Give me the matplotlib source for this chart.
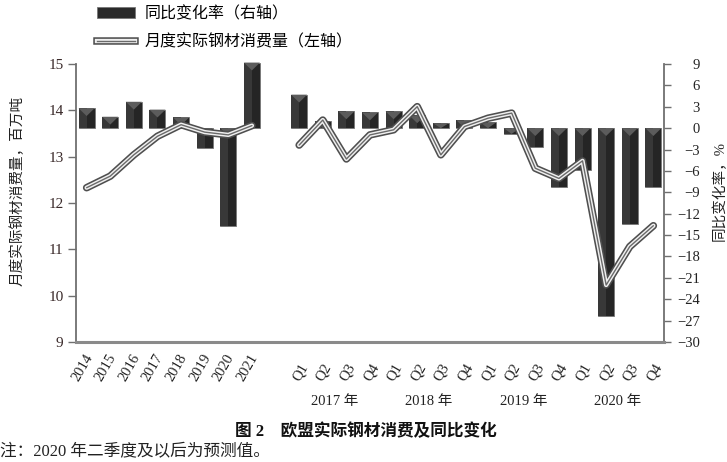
import matplotlib
matplotlib.use('Agg')
import matplotlib.pyplot as plt
import matplotlib.patheffects as pe
from matplotlib.patches import Patch
from matplotlib.lines import Line2D
import numpy as np

plt.rcParams['font.family'] = ['Liberation Serif', 'Noto Sans CJK SC']
plt.rcParams['axes.unicode_minus'] = True

# annual data (left: consumption, right: yoy change)
years = ['2014', '2015', '2016', '2017', '2018', '2019', '2020', '2021']
year_consumption = [12.33, 12.58, 13.04, 13.44, 13.69, 13.53, 13.47, 13.67]
year_change = [2.8, 1.6, 3.7, 2.6, 1.5, -2.8, -13.7, 9.2]

# quarterly data 2017-2020
quarter_years = ['2017 年', '2018 年', '2019 年', '2020 年']
quarters = ['Q1', 'Q2', 'Q3', 'Q4']
quarter_consumption = [13.25, 13.79, 12.95, 13.47, 13.58, 14.08, 13.04, 13.65,
                       13.83, 13.94, 12.75, 12.53, 12.91, 10.23, 11.06, 11.51]
quarter_change = [4.7, 1.0, 2.35, 2.2, 2.35, 1.8, 0.7, 1.1,
                  0.8, -0.8, -2.6, -8.3, -5.9, -26.3, -13.4, -8.3]

x_year = np.arange(len(years))
x_quarter = np.arange(len(quarter_consumption)) + len(years) + 1

fig = plt.figure(figsize=(7.27, 4.62), dpi=100)
ax = fig.add_axes([76 / 727, 1 - 342 / 462, 588 / 727, 278 / 462])
ax2 = ax.twinx()
ax.set_zorder(ax2.get_zorder() + 1)
ax.patch.set_visible(False)

# bars with a simple bevel look
bar_w = 0.68
bevel = 1.1
x_all = np.concatenate([x_year, x_quarter])
chg_all = np.concatenate([year_change, quarter_change])
ax2.bar(x_all, chg_all, width=bar_w, color='#252525', edgecolor='#777777',
        linewidth=0.6, clip_on=False)
ax2.bar(x_all - bar_w / 4, chg_all, width=bar_w / 2, color='#383838',
        linewidth=0, clip_on=False)
for xi, v in zip(x_all, chg_all):
    top = max(v, 0)
    d = min(bevel, abs(v))
    ax2.fill([xi - bar_w / 2, xi + bar_w / 2, xi], [top, top, top - d],
             color='#5c5c5c', lw=0, clip_on=False)

line_fx = [pe.Stroke(linewidth=5.4, foreground='#4f4f4f'),
           pe.Stroke(linewidth=3.1, foreground='#f0f0f0'),
           pe.Normal()]
for xs, ys in [(x_year, year_consumption), (x_quarter, quarter_consumption)]:
    ax.plot(xs, ys, color='#6a6a6a', lw=1.0, solid_capstyle='round',
            solid_joinstyle='round', path_effects=line_fx)

ax.set_xlim(-0.45, x_quarter[-1] + 0.45)
ax.set_ylim(9, 15)
ax.set_yticks(range(9, 16))
ax2.set_ylim(-30, 9)
ax2.set_yticks(range(-30, 10, 3))
ax.set_xticks([])

grey = '#6f6f6f'
for s in ['top', 'right']:
    ax.spines[s].set_visible(False)
for s in ['top', 'left', 'bottom']:
    ax2.spines[s].set_visible(False)
ax.spines['left'].set_color(grey)
ax.spines['left'].set_linewidth(1.3)
ax.spines['bottom'].set_color('#8a8a8a')
ax.spines['bottom'].set_linewidth(2.2)
ax2.spines['right'].set_color(grey)
ax2.spines['right'].set_linewidth(1.3)

ax.tick_params(axis='y', direction='out', length=6, width=1, color=grey,
               labelsize=11, labelcolor='#3a2a2a', pad=3)
ax2.tick_params(axis='y', direction='out', length=5, width=1, color=grey,
                labelsize=10.5, labelcolor='#222222', pad=21)
for lab in ax2.get_yticklabels():
    lab.set_horizontalalignment('right')

# x labels
for xi, lab in zip(x_year, years):
    ax.annotate(lab, xy=(xi, 0), xycoords=('data', 'axes fraction'),
                xytext=(-2, -7), textcoords='offset points', rotation=60,
                ha='right', va='top', rotation_mode='anchor', fontsize=10.5,
                color='#222222')
for i, xi in enumerate(x_quarter):
    ax.annotate(quarters[i % 4], xy=(xi, 0), xycoords=('data', 'axes fraction'),
                xytext=(0, -14), textcoords='offset points', rotation=60,
                ha='right', va='top', rotation_mode='anchor', fontsize=10.5,
                color='#222222')
for k, lab in enumerate(quarter_years):
    ax.annotate(lab, xy=(x_quarter[4 * k:4 * k + 4].mean(), 0),
                xycoords=('data', 'axes fraction'), xytext=(0, -43),
                textcoords='offset points', ha='center', va='center',
                fontsize=10.5, color='#222222')

fig.text(17.5 / 727, 1 - 191 / 462, '月度实际钢材消费量，百万吨', rotation=90,
         ha='center', va='center', fontsize=10.5, color='#222222')
fig.text(720 / 727, 1 - 191 / 462, '同比变化率，%', rotation=90,
         ha='center', va='center', fontsize=10.5, color='#222222')

handles = [Patch(facecolor='#2a2a2a', edgecolor='#777777', linewidth=0.6),
           Line2D([], [], color='#6a6a6a', lw=1.0, path_effects=line_fx)]
fig.legend(handles, ['同比变化率（右轴）', '月度实际钢材消费量（左轴）'],
           loc='upper left', bbox_to_anchor=(97 / 727, 1 - 6 / 462),
           frameon=False, fontsize=11.5, handlelength=2.4, handletextpad=0.6,
           labelspacing=0.8, borderpad=0, borderaxespad=0)

fig.text(366 / 727, 1 - 432 / 462, '图 2    欧盟实际钢材消费及同比变化',
         ha='center', va='center', fontsize=12, fontweight='bold',
         color='#111111')
fig.text(0.0, 1 - 452 / 462, '注：2020 年二季度及以后为预测值。',
         ha='left', va='center', fontsize=12, color='#222222')

fig.savefig('out.png', dpi=100)
